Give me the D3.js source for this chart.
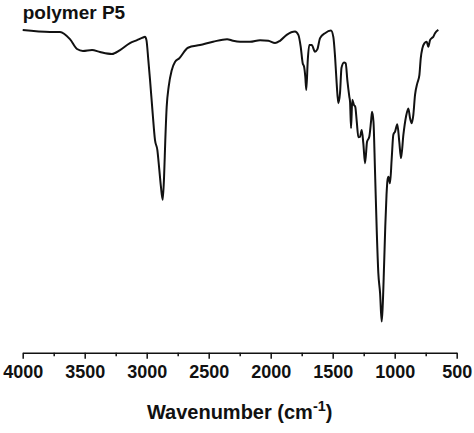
<!DOCTYPE html>
<html>
<head>
<meta charset="utf-8">
<script src="https://cdn.jsdelivr.net/npm/d3@7"></script>
<style>
  html, body { margin: 0; padding: 0; background: #fff; }
  svg { display: block; }
  text { font-family: "Liberation Sans", Arial, sans-serif; font-weight: bold; fill: #111; }
</style>
</head>
<body>
<svg id="chart" width="474" height="433"></svg>
<script>
// Spectrum: wavenumber (cm-1) and transmittance (%, arbitrary)
const wavenumber = [4000,3780,3699,3619,3562,3514,3441,3377,3280,3215,3135,3078,3030,3014,3002,2987,2973,2952,2933,2914,2898,2885,2871,2860,2850,2839,2823,2798,2772,2737,2667,2570,2465,2352,2304,2247,2167,2086,2019,1965,1925,1871,1804,1777,1758,1742,1731,1721,1713,1701,1689,1669,1643,1624,1602,1562,1514,1495,1481,1468,1455,1441,1429,1409,1395,1382,1366,1360,1352,1342,1328,1318,1306,1293,1280,1266,1253,1239,1223,1205,1191,1183,1171,1159,1145,1132,1118,1105,1097,1086,1076,1066,1058,1050,1038,1024,1011,997,979,963,949,930,909,890,876,863,850,836,818,801,790,777,761,742,729,715,701,689,675,648];
const transmittance = [97.0,96.4,96.4,94.2,91.2,90.6,90.9,90.3,89.7,90.9,93.0,93.9,94.7,94.9,93.9,87.9,81.8,71.8,63.6,60.6,54.5,49.4,45.5,52.4,63.6,73.6,79.7,84.8,87.3,88.4,91.6,92.4,93.4,94.2,93.7,93.4,93.4,93.9,93.7,93.0,93.7,95.5,96.5,95.5,91.9,86.9,85.9,82.8,78.8,87.9,92.4,92.4,90.4,91.1,94.5,96.0,96.8,94.9,88.9,80.8,74.8,77.9,85.5,87.1,86.9,81.8,76.8,75.2,67.2,75.8,74.2,73.7,69.2,64.5,64.6,66.7,62.6,56.6,63.1,64.6,69.2,72.2,69.1,54.5,36.4,23.3,17.3,8.6,13.1,25.2,37.4,47.0,51.5,52.5,50.5,58.1,65.2,66.2,68.4,63.1,58.1,65.2,70.7,73.2,70.2,68.7,71.2,77.3,80.8,83.3,88.4,91.4,92.9,93.4,91.9,93.9,94.5,94.9,96.0,97.0];
const majorTicks = [4000,3500,3000,2500,2000,1500,1000,500];
const minorTicks = [3750,3250,2750,2250,1750,1250,750];
const chartTitle = "polymer P5";
const xTitle = "Wavenumber (cm";
const xTitleSup = "-1";

const svg = d3.select("#chart");
const x = d3.scaleLinear().domain([4000, 500]).range([22.7, 456.7]);
const y = d3.scaleLinear().domain([0, 100]).range([350, 20]);
const axisY = 352.7;

const data = wavenumber.map((w, i) => ({w, t: transmittance[i]}));

svg.append("path")
  .datum(data)
  .attr("fill", "none")
  .attr("stroke", "#111")
  .attr("stroke-width", 2)
  .attr("stroke-linejoin", "round")
  .attr("d", d3.line().x(d => x(d.w)).y(d => y(d.t)).curve(d3.curveMonotoneX));

// minor ticks
svg.append("g")
  .attr("transform", `translate(0,${axisY})`)
  .call(d3.axisBottom(x).tickValues(minorTicks).tickSize(3.5).tickFormat(""))
  .call(g => g.select(".domain").remove())
  .call(g => g.selectAll("line").attr("stroke", "#111").attr("stroke-width", 1.5));

// major axis
const gx = svg.append("g")
  .attr("transform", `translate(0,${axisY})`)
  .call(d3.axisBottom(x).tickValues(majorTicks).tickSize(6).tickSizeOuter(0).tickPadding(7).tickFormat(d3.format("d")));
gx.select(".domain").attr("stroke", "#111").attr("stroke-width", 1.5);
gx.selectAll("line").attr("stroke", "#111").attr("stroke-width", 1.5);
gx.selectAll("text")
  .style("font-family", '"Liberation Sans", Arial, sans-serif')
  .style("font-weight", "bold")
  .attr("font-size", 18)
  .attr("fill", "#111");

// titles
svg.append("text")
  .attr("x", 22.7).attr("y", 19.3)
  .attr("font-size", 19)
  .text(chartTitle);

const t = svg.append("text")
  .attr("x", (x(4000) + x(500)) / 2)
  .attr("y", 419)
  .attr("text-anchor", "middle")
  .attr("font-size", 20);
t.append("tspan").text(xTitle);
t.append("tspan").attr("font-size", 14.5).attr("dy", -8).text(xTitleSup);
t.append("tspan").attr("dy", 8).text(")");
</script>
</body>
</html>
